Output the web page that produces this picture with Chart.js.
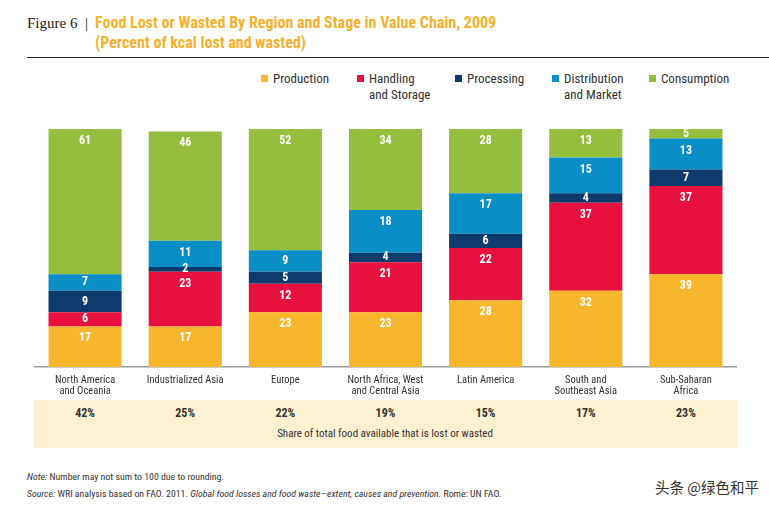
<!DOCTYPE html>
<html>
<head>
<meta charset="utf-8">
<script src="https://cdn.jsdelivr.net/npm/chart.js@4"></script>
<style>
  body { margin: 0; width: 769px; height: 510px; background: #fff; position: relative; overflow: hidden;
         font-family: Roboto, sans-serif; font-stretch: condensed; color: #333; }
  .abs { position: absolute; white-space: nowrap; }
  #fig { left: 27px; top: 15px; font-family: "Liberation Serif", serif; font-stretch: normal; font-size: 15px; color: #222; }
  #title { left: 95px; top: 13px; font-weight: bold; font-size: 16px; color: #F6B12C; line-height: 20px; }
  #rule { left: 27px; top: 57px; width: 742px; height: 1px; background: #222; }
  .leg { font-size: 13px; line-height: 16px; color: #333; }
  .leg i { position: absolute; left: -12px; top: 4px; width: 7px; height: 7px; }
  #share { left: 33px; top: 400px; width: 704px; height: 48px; background: #FEF1D2; }
  .pct { font-weight: bold; font-size: 12px; color: #333; transform: translateX(-50%); top: 406px; }
  #cap { left: 385px; top: 427px; font-size: 11px; transform: translateX(-50%); }
  .foot { left: 27px; font-size: 9.8px; color: #333; }
  #wm { left: 655px; top: 476px; font-family: "Noto Sans CJK SC", sans-serif; font-stretch: normal; font-size: 14.5px; color: #333; }
  #wrap { position: absolute; left: 0; top: 100px; width: 769px; height: 305px; }
</style>
</head>
<body>
<div class="abs" id="fig">Figure 6 &nbsp;|</div>
<div class="abs" id="title">Food Lost or Wasted By Region and Stage in Value Chain, 2009<br>(Percent of kcal lost and wasted)</div>
<div class="abs" id="rule"></div>
<div id="legend"></div>
<div class="abs" id="share"></div>
<div id="pcts"></div>
<div class="abs" id="cap">Share of total food available that is lost or wasted</div>
<div class="abs foot" style="top:471px"><i>Note:</i> Number may not sum to 100 due to rounding.</div>
<div class="abs foot" style="top:488px"><i>Source:</i> WRI analysis based on FAO. 2011. <i>Global food losses and food waste—extent, causes and prevention.</i> Rome: UN FAO.</div>
<div class="abs" id="wm">头条 @绿色和平</div>
<div id="wrap"><canvas id="chart"></canvas></div>
<script>
var regions = [['North America', 'and Oceania'], 'Industrialized Asia', 'Europe', ['North Africa, West', 'and Central Asia'], 'Latin America', ['South and', 'Southeast Asia'], ['Sub-Saharan', 'Africa']];
var production = [17, 17, 23, 23, 28, 32, 39];
var handling = [6, 23, 12, 21, 22, 37, 37];
var processing = [9, 2, 5, 4, 6, 4, 7];
var distribution = [7, 11, 9, 18, 17, 15, 13];
var consumption = [61, 46, 52, 34, 28, 13, 5];
var shareLost = [42, 25, 22, 19, 15, 17, 23];

var stages = [
  { name: ['Production'], data: production, color: '#F8B62D', x: 273 },
  { name: ['Handling', 'and Storage'], data: handling, color: '#E8103F', x: 369 },
  { name: ['Processing'], data: processing, color: '#0D3B6E', x: 467 },
  { name: ['Distribution', 'and Market'], data: distribution, color: '#0A8EC6', x: 564 },
  { name: ['Consumption'], data: consumption, color: '#95BD3E', x: 661 }
];

// legend in html, the labels break over two lines
var legHtml = '';
stages.forEach(function(s) {
  legHtml += '<div class="abs leg" style="left:' + s.x + 'px;top:71px"><i style="background:' + s.color + '"></i>' + s.name.join('<br>') + '</div>';
});
document.getElementById('legend').innerHTML = legHtml;

// white numbers near the top of each segment
var segLabels = {
  id: 'segLabels',
  afterDatasetsDraw: function(chart) {
    var ctx = chart.ctx;
    var area = chart.chartArea;
    ctx.save();
    ctx.font = 'bold condensed 12px Roboto, sans-serif';
    ctx.fillStyle = '#fff';
    ctx.textAlign = 'center';
    ctx.textBaseline = 'middle';
    chart.data.datasets.forEach(function(ds, i) {
      chart.getDatasetMeta(i).data.forEach(function(bar, j) {
        var top = Math.max(bar.y, area.top);
        var y = Math.min(top + 12, (top + bar.base) / 2);
        ctx.fillText(ds.data[j], bar.x, y);
      });
    });
    ctx.restore();
  }
};

var chart = new Chart(document.getElementById('chart'), {
  type: 'bar',
  data: {
    labels: regions,
    datasets: stages.map(function(s) {
      return { label: s.name.join(' '), data: s.data, backgroundColor: s.color, borderWidth: 0,
               barPercentage: 0.73, categoryPercentage: 1.0 };
    })
  },
  options: {
    responsive: true,
    maintainAspectRatio: false,
    animation: false,
    layout: { padding: { left: 35, right: 33, top: 29, bottom: 0 } },
    plugins: { legend: { display: false }, tooltip: { enabled: false } },
    scales: {
      x: {
        stacked: true,
        grid: { display: false, drawTicks: false },
        border: { display: true, color: '#999', width: 1.5 },
        ticks: { color: '#333', padding: 8, maxRotation: 0, autoSkip: false,
                 font: { family: 'Roboto, sans-serif', weight: 'condensed', size: 10.5, lineHeight: 1.05 } }
      },
      y: { stacked: true, min: 0, max: 100, display: false }
    }
  },
  plugins: [segLabels]
});

// share row under the bars, lined up with the bar centres
var xs = chart.scales.x;
var pHtml = '';
shareLost.forEach(function(v, i) {
  pHtml += '<div class="abs pct" style="left:' + xs.getPixelForValue(i) + 'px">' + v + '%</div>';
});
document.getElementById('pcts').innerHTML = pHtml;
</script>
</body>
</html>
